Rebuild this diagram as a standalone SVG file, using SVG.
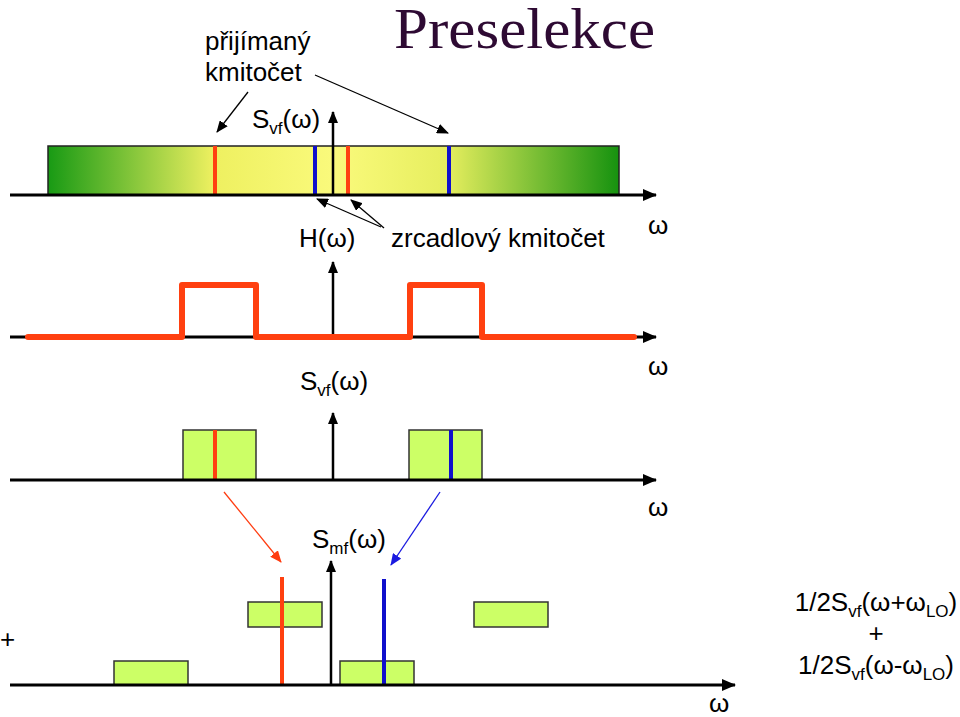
<svg xmlns="http://www.w3.org/2000/svg" width="960" height="717" viewBox="0 0 960 717">
<defs>
<linearGradient id="band" x1="0" y1="0" x2="1" y2="0">
<stop offset="0" stop-color="#189a14"/>
<stop offset="0.29" stop-color="#eef060"/>
<stop offset="0.5" stop-color="#fafa7c"/>
<stop offset="0.7" stop-color="#e6ee5e"/>
<stop offset="1" stop-color="#16920f"/>
</linearGradient>
<marker id="ah" markerUnits="userSpaceOnUse" markerWidth="14" markerHeight="12" refX="13" refY="6" orient="auto">
<path d="M0,0 L14,6 L0,12 Z" fill="#000"/>
</marker>
<marker id="ahs" markerUnits="userSpaceOnUse" markerWidth="12" markerHeight="10" refX="11" refY="5" orient="auto">
<path d="M0,0 L12,5 L0,10 Z" fill="#000"/>
</marker>
<marker id="ahr" markerUnits="userSpaceOnUse" markerWidth="12" markerHeight="10" refX="11" refY="5" orient="auto">
<path d="M0,0 L12,5 L0,10 Z" fill="#ff3c10"/>
</marker>
<marker id="ahb" markerUnits="userSpaceOnUse" markerWidth="12" markerHeight="10" refX="11" refY="5" orient="auto">
<path d="M0,0 L12,5 L0,10 Z" fill="#1a1ae0"/>
</marker>
</defs>
<style>
text{font-family:"Liberation Sans",Arial,sans-serif;font-size:26px;fill:#000}
.sub{font-size:17px}
.axis{stroke:#000;stroke-width:3;fill:none}
.vax{stroke:#000;stroke-width:2.5;fill:none}
.ptr{stroke:#000;stroke-width:1.3;fill:none}
.red{stroke:#ff4010;stroke-width:4}
.blue{stroke:#1010cc;stroke-width:4}
.box{fill:#ccff66;stroke:#333;stroke-width:1.5}
</style>
<rect width="960" height="717" fill="#fff"/>

<g id="title"><text x="394" y="48" textLength="261" lengthAdjust="spacingAndGlyphs" style="font-family:'Liberation Serif','Times New Roman',serif;font-size:56px;fill:#2e0a33">Preselekce</text></g>

<g id="spectrum-top">
<rect x="48" y="146" width="571" height="49" fill="url(#band)" stroke="#222" stroke-width="1.5"/>
<line class="red" x1="215" y1="146" x2="215" y2="195"/>
<line class="red" x1="348" y1="146" x2="348" y2="195"/>
<line class="blue" x1="315" y1="146" x2="315" y2="195"/>
<line class="blue" x1="449" y1="146" x2="449" y2="195"/>
<line class="axis" x1="10" y1="195" x2="656" y2="195" marker-end="url(#ah)"/>
<line class="vax" x1="333" y1="195" x2="333" y2="112" stroke-width="2" marker-end="url(#ahs)"/>
<text x="205" y="50">přijímaný</text>
<text x="205" y="81">kmitočet</text>
<text x="252" y="128">S<tspan class="sub" dy="6">vf</tspan><tspan dy="-6">(ω)</tspan></text>
<text x="648" y="234">ω</text>
<text x="299" y="247">H(ω)</text>
<text x="391" y="247">zrcadlový kmitočet</text>
</g>

<g id="filter-H">
<line class="axis" x1="10" y1="337" x2="656" y2="337" marker-end="url(#ah)"/>
<line class="vax" x1="333" y1="337" x2="333" y2="262" marker-end="url(#ahs)"/>
<path d="M28,337 H182 V285 H256 V337 H410 V285 H482 V337 H634" fill="none" stroke="#ff4010" stroke-width="6" stroke-linejoin="round" stroke-linecap="round"/>
<text x="648" y="375">ω</text>
</g>

<g id="spectrum-filtered">
<text x="300" y="390">S<tspan class="sub" dy="6">vf</tspan><tspan dy="-6">(ω)</tspan></text>
<rect class="box" x="183" y="430" width="73" height="50"/>
<rect class="box" x="409" y="430" width="73" height="50"/>
<line class="red" x1="215" y1="430" x2="215" y2="480"/>
<line class="blue" x1="451" y1="430" x2="451" y2="480"/>
<line class="axis" x1="10" y1="480" x2="656" y2="480" marker-end="url(#ah)"/>
<line class="vax" x1="333" y1="480" x2="333" y2="413" marker-end="url(#ahs)"/>
<text x="648" y="516">ω</text>
</g>

<g id="spectrum-mf">
<text x="312" y="548">S<tspan class="sub" dy="6">mf</tspan><tspan dy="-6">(ω)</tspan></text>
<rect class="box" x="248" y="602" width="74" height="25"/>
<rect class="box" x="474" y="602" width="74" height="25"/>
<rect class="box" x="114" y="661" width="74" height="24"/>
<rect class="box" x="340" y="661" width="74" height="24"/>
<line class="red" x1="282" y1="577" x2="282" y2="685"/>
<line class="blue" x1="384" y1="579" x2="384" y2="685"/>
<line class="axis" x1="10" y1="685" x2="735" y2="685" marker-end="url(#ah)"/>
<line class="vax" x1="331" y1="685" x2="331" y2="561" marker-end="url(#ahs)"/>
<text x="0" y="648">+</text>
<text x="709" y="712">ω</text>
<text x="876" y="611" text-anchor="middle">1/2S<tspan class="sub" dy="6">vf</tspan><tspan dy="-6">(ω+ω</tspan><tspan class="sub" dy="6">LO</tspan><tspan dy="-6">)</tspan></text>
<text x="876" y="642" text-anchor="middle">+</text>
<text x="876" y="674" text-anchor="middle">1/2S<tspan class="sub" dy="6">vf</tspan><tspan dy="-6">(ω-ω</tspan><tspan class="sub" dy="6">LO</tspan><tspan dy="-6">)</tspan></text>
</g>

<g id="connectors">
<line class="ptr" x1="248" y1="92" x2="217" y2="132" marker-end="url(#ahs)"/>
<line class="ptr" x1="315" y1="75" x2="448" y2="133" marker-end="url(#ahs)"/>
<line class="ptr" x1="381" y1="227" x2="317" y2="199" marker-end="url(#ahs)"/>
<line class="ptr" x1="384" y1="228" x2="351" y2="200" marker-end="url(#ahs)"/>
<line x1="224" y1="492" x2="281" y2="562" stroke="#ff3c10" stroke-width="1.3" marker-end="url(#ahr)"/>
<line x1="440" y1="492" x2="391" y2="565" stroke="#1a1ae0" stroke-width="1.3" marker-end="url(#ahb)"/>
</g>
</svg>
